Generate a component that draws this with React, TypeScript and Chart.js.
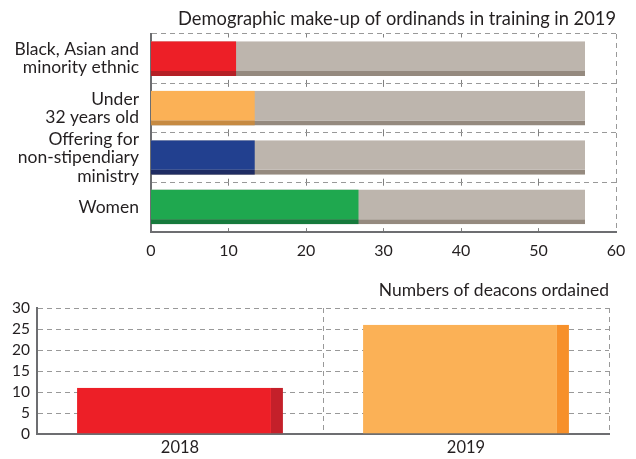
import React, { useEffect, useRef } from "react";
import { Chart, registerables } from "chart.js";

Chart.register(...registerables);

const topTitle = "Demographic make-up of ordinands in training in 2019";
const topCategories: string[][] = [
  ["Black, Asian and", "minority ethnic"],
  ["Under", "32 years old"],
  ["Offering for", "non-stipendiary", "ministry"],
  ["Women"],
];
const topValues = [11, 13.4, 13.4, 26.8];
const topTotals = [56, 56, 56, 56];
const topColors = ["#ED1F27", "#FBB156", "#22408F", "#1FA84F"];
const topStripColors = ["#B52026", "#C68A42", "#1F2C63", "#167A3C"];
const totalColor = "#BDB5AD";
const totalStripColor = "#958A7F";
const topTickMax = 60;
const topTickStep = 10;

const bottomTitle = "Numbers of deacons ordained";
const bottomCategories = ["2018", "2019"];
const bottomValues = [11, 26];
const bottomColors = ["#ED1F27", "#FBB156"];
const bottomStripColors = ["#C4202A", "#F7902A"];
const bottomTickMax = 30;
const bottomTickStep = 5;

const FONT = "Lato, 'Open Sans', sans-serif";
const TEXT = "#231F20";
const GRID = "#999999";
const AXIS = "#6D6E71";
const CLEAR = "rgba(0,0,0,0)";

function TopChart() {
  const ref = useRef<HTMLCanvasElement>(null);
  useEffect(() => {
    const hiddenTop = (extra: any) => ({
      type: "linear",
      position: "top",
      min: 0,
      max: topTickMax,
      ticks: { display: false, stepSize: topTickStep },
      afterFit: (scale: any) => {
        scale.height = 0;
      },
      ...extra,
    });
    const chart = new Chart(ref.current!, {
      type: "bar",
      data: {
        labels: topCategories as any,
        datasets: [
          {
            data: topValues,
            backgroundColor: topColors,
            borderColor: topStripColors,
            borderWidth: { top: 0, left: 0, right: 0, bottom: 5 } as any,
            borderSkipped: false,
            grouped: false,
            categoryPercentage: 1,
            barPercentage: 0.7,
            order: 0,
          },
          {
            data: topTotals,
            backgroundColor: totalColor,
            borderColor: totalStripColor,
            borderWidth: { top: 0, left: 0, right: 0, bottom: 5 } as any,
            borderSkipped: false,
            grouped: false,
            categoryPercentage: 1,
            barPercentage: 0.7,
            order: 1,
          },
        ],
      },
      options: {
        indexAxis: "y",
        animation: false,
        responsive: false,
        layout: { padding: { left: 0, right: 20, top: 0, bottom: 0 } },
        plugins: {
          legend: { display: false },
          tooltip: { enabled: false },
          title: {
            display: true,
            text: topTitle,
            align: "end",
            color: TEXT,
            font: { family: FONT, size: 18.3, weight: "normal", lineHeight: 1.2 },
            padding: { top: 8, bottom: 4 },
          },
        },
        scales: {
          x: {
            min: 0,
            max: topTickMax,
            ticks: {
              stepSize: topTickStep,
              color: TEXT,
              font: { family: FONT, size: 16 },
              padding: 10,
            },
            grid: { display: false, drawTicks: false },
            border: { color: AXIS, width: 2 },
            afterFit: (scale: any) => {
              scale.height = 30;
            },
          },
          xInner: hiddenTop({
            grid: {
              color: (c: any) =>
                c.tick && c.tick.value > 0 && c.tick.value < topTickMax ? "#808080" : CLEAR,
              lineWidth: 1,
              drawTicks: false,
            },
            border: { display: false, dash: [7, 42.4], dashOffset: 3.5 },
          }),
          xEdge: hiddenTop({
            grid: {
              color: (c: any) => (c.tick && c.tick.value === topTickMax ? GRID : CLEAR),
              lineWidth: 1,
              drawTicks: false,
            },
            border: { display: false, dash: [5, 4] },
          }),
          y: {
            ticks: {
              autoSkip: false,
              color: TEXT,
              font: { family: FONT, size: 17.5, lineHeight: 1.05 },
              padding: 12,
            },
            grid: { color: GRID, lineWidth: 1, drawTicks: false },
            border: { color: AXIS, width: 2, dash: [5, 4] } as any,
            afterFit: (scale: any) => {
              scale.width = 151;
            },
          },
        },
      },
    } as any);
    return () => chart.destroy();
  }, []);
  return <canvas ref={ref} width={636} height={262} style={{ display: "block" }} />;
}

function BottomChart() {
  const ref = useRef<HTMLCanvasElement>(null);
  useEffect(() => {
    const chart = new Chart(ref.current!, {
      type: "bar",
      data: {
        labels: bottomCategories,
        datasets: [
          {
            data: bottomValues,
            backgroundColor: bottomColors,
            borderColor: bottomStripColors,
            borderWidth: { top: 0, left: 0, right: 12, bottom: 0 } as any,
            borderSkipped: false,
            categoryPercentage: 1,
            barPercentage: 0.72,
          },
        ],
      },
      options: {
        animation: false,
        responsive: false,
        layout: { padding: { left: 0, right: 27, top: 0, bottom: 0 } },
        plugins: {
          legend: { display: false },
          tooltip: { enabled: false },
          title: {
            display: true,
            text: bottomTitle,
            align: "end",
            color: TEXT,
            font: { family: FONT, size: 17.5, weight: "normal", lineHeight: 1.2 },
            padding: { top: 18, bottom: 7 },
          },
        },
        scales: {
          x: {
            ticks: {
              color: TEXT,
              font: { family: FONT, size: 16.5 },
              padding: 4,
            },
            grid: { color: GRID, lineWidth: 1, drawTicks: false },
            border: { color: AXIS, width: 2, dash: [5, 4] } as any,
            afterFit: (scale: any) => {
              scale.height = 25;
            },
          },
          y: {
            min: 0,
            max: bottomTickMax,
            ticks: {
              autoSkip: false,
              stepSize: bottomTickStep,
              color: TEXT,
              font: { family: FONT, size: 15.5 },
              padding: 7,
            },
            grid: { color: GRID, lineWidth: 1, drawTicks: false },
            border: { color: AXIS, width: 2, dash: [5, 4] } as any,
            afterFit: (scale: any) => {
              scale.width = 37;
            },
          },
        },
      },
    } as any);
    return () => chart.destroy();
  }, []);
  return <canvas ref={ref} width={636} height={197} style={{ display: "block" }} />;
}

export default function App() {
  return (
    <div style={{ position: "absolute", left: 0, top: 0, width: 636, height: 459, background: "#fff" }}>
      <TopChart />
      <BottomChart />
    </div>
  );
}
